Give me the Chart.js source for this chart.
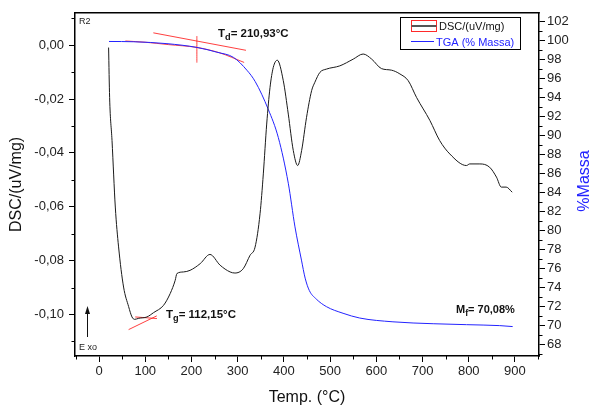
<!DOCTYPE html>
<html>
<head>
<meta charset="utf-8">
<script src="https://cdn.jsdelivr.net/npm/chart.js@4"></script>
<style>
  body { margin: 0; background: #fff; }
  canvas { display: block; }
</style>
</head>
<body>
<canvas id="myChart" width="593" height="408"></canvas>
<script>
// DSC curve (left axis)
var dscTemp = [20.7, 22.9, 28.1, 35.2, 42.3, 53.1, 63.9, 71.3, 77, 86, 103.7, 118, 139.5, 154, 164.8,
    168.5, 182.7, 197, 219, 240, 262, 283.6, 294, 312, 326.8, 337.6, 348.4, 355.5, 362.8, 370, 377, 385.7,
    398.7, 409.5, 420.3, 429.8, 438.4, 449, 460, 467, 478, 492, 521, 550, 571.5, 590, 611, 633,
    651, 669, 687, 716, 737, 759, 795, 802, 824, 845, 860, 870.4, 881, 894];
var dscVal = [-0.0009, -0.0194, -0.0354, -0.0601, -0.0749, -0.0898, -0.097, -0.1009, -0.1018, -0.1014,
    -0.1009, -0.0993, -0.0966, -0.0922, -0.0873,
    -0.0848, -0.0842, -0.0836, -0.0811, -0.0777, -0.0817, -0.0842, -0.0846, -0.083, -0.078, -0.075, -0.0626,
    -0.0478, -0.0293, -0.0157, -0.0083, -0.0056,
    -0.0132, -0.0256, -0.0391, -0.0447, -0.0391, -0.0268, -0.0169, -0.0138, -0.0101, -0.0089, -0.0077,
    -0.0052, -0.0033, -0.0052, -0.0087, -0.0093,
    -0.0107, -0.0132, -0.0194, -0.028, -0.0354, -0.0404, -0.0447, -0.0441, -0.0441, -0.0453, -0.049, -0.0527,
    -0.0527, -0.0546];

// TGA curve (right axis)
var tgaTemp = [21.6, 75, 147, 212, 255, 291, 320, 338, 366, 388, 409.5, 424, 438, 446, 455, 470, 492, 528, 564, 636,
    723, 795, 867, 895];
var tgaVal = [99.93, 99.9, 99.7, 99.3, 98.8, 98.25, 96.9, 95.7, 92.8, 89.8, 85.0, 80.4, 76.9, 75.0, 73.7, 72.8, 72.0,
    71.3, 70.8, 70.4, 70.2, 70.1, 70.0, 69.9];

// tangent constructions
var tdTan1Temp = [117.5, 318];
var tdTan1Val = [100.84, 99.0];
var tdTan2Temp = [57, 100, 150, 212, 260, 314];
var tdTan2Val = [99.98, 99.85, 99.6, 99.3, 98.75, 97.72];
var tdMarkTemp = [211.7, 211.7];
var tdMarkVal = [100.5, 97.7];
var tgTan1Temp = [64, 125];
var tgTan1Val = [-0.1056, -0.1005];
var tgTan2Temp = [78.4, 125.3];
var tgTan2Val = [-0.1009, -0.1015];

function pts(xs, ys) {
    return xs.map(function (x, i) { return { x: x, y: ys[i] }; });
}

var FONT = 'Liberation Sans, Arial, sans-serif';
var BLUE = '#2323ff';
var RED = 'rgba(255,30,30,0.85)';

function tickCol(isMajor) {
    return function (ctx) {
        return (ctx.tick && isMajor(ctx.tick.value)) ? '#000' : 'rgba(0,0,0,0)';
    };
}
var majX = function (v) { return Math.round(v) % 100 === 0; };
var majL = function (v) { return Math.round(v * 100) % 2 === 0; };
var majR = function (v) { return Math.round(v) % 2 === 0; };

function subText(c, x, y, main, sub, rest, size) {
    c.font = 'bold ' + size + 'px ' + FONT;
    c.fillText(main, x, y);
    x += c.measureText(main).width;
    c.font = 'bold ' + (size * 0.8) + 'px ' + FONT;
    c.fillText(sub, x, y + 3);
    x += c.measureText(sub).width;
    c.font = 'bold ' + size + 'px ' + FONT;
    c.fillText(rest, x, y);
}

var decor = {
    id: 'decor',
    afterDraw: function (chart) {
        var c = chart.ctx, a = chart.chartArea;
        c.save();
        // top frame line
        c.strokeStyle = '#000';
        c.lineWidth = 1.5;
        c.beginPath();
        c.moveTo(a.left - 0.75, a.top);
        c.lineTo(a.right + 0.75, a.top);
        c.stroke();

        // minor ticks
        c.lineWidth = 1;
        var sx = chart.scales.x, sl = chart.scales.yL, sr = chart.scales.yR;
        c.beginPath();
        sx.ticks.forEach(function (t) {
            if (majX(t.value)) return;
            var p = Math.round(sx.getPixelForValue(t.value)) + 0.5;
            c.moveTo(p, a.bottom); c.lineTo(p, a.bottom + 3.5);
        });
        sl.ticks.forEach(function (t) {
            if (majL(t.value)) return;
            var p = Math.round(sl.getPixelForValue(t.value)) + 0.5;
            c.moveTo(a.left, p); c.lineTo(a.left - 3.5, p);
        });
        sr.ticks.forEach(function (t) {
            if (majR(t.value)) return;
            var p = Math.round(sr.getPixelForValue(t.value)) + 0.5;
            c.moveTo(a.right, p); c.lineTo(a.right + 3.5, p);
        });
        c.stroke();

        // axis titles
        c.textAlign = 'center';
        c.textBaseline = 'middle';
        c.font = '16px ' + FONT;
        c.fillStyle = '#111';
        c.fillText('Temp. (°C)', (a.left + a.right) / 2, 398);
        c.save();
        c.translate(17, (a.top + a.bottom) / 2);
        c.rotate(-Math.PI / 2);
        c.fillText('DSC/(uV/mg)', 0, 0);
        c.restore();
        c.save();
        c.translate(585, 181);
        c.rotate(-Math.PI / 2);
        c.fillStyle = BLUE;
        c.fillText('%Massa', 0, 0);
        c.restore();

        // annotations
        c.textAlign = 'left';
        c.textBaseline = 'alphabetic';
        c.fillStyle = '#111';
        subText(c, 218, 36.5, 'T', 'd', '= 210,93°C', 11.5);
        subText(c, 166, 318, 'T', 'g', '= 112,15°C', 11.5);
        subText(c, 456, 313, 'M', 'f', '= 70,08%', 11);
        c.font = '9px ' + FONT;
        c.fillStyle = '#222';
        c.fillText('R2', 79, 24);
        c.fillText('E xo', 79, 350);

        // Exo arrow
        c.strokeStyle = '#111';
        c.lineWidth = 1;
        c.beginPath();
        c.moveTo(87.5, 337); c.lineTo(87.5, 312);
        c.stroke();
        c.fillStyle = '#111';
        c.beginPath();
        c.moveTo(87.5, 306); c.lineTo(85, 314); c.lineTo(90, 314); c.closePath();
        c.fill();

        // legend
        c.strokeStyle = '#000';
        c.lineWidth = 1;
        c.strokeRect(400.5, 17.5, 120, 32);
        c.strokeStyle = '#ff2a2a';
        c.strokeRect(411.5, 20.5, 25, 11);
        c.strokeStyle = '#555';
        c.lineWidth = 2;
        c.beginPath(); c.moveTo(411.5, 26); c.lineTo(436.5, 26); c.stroke();
        c.strokeStyle = BLUE;
        c.lineWidth = 1;
        c.beginPath(); c.moveTo(411, 41.5); c.lineTo(434, 41.5); c.stroke();
        c.font = '11px ' + FONT;
        c.textBaseline = 'middle';
        c.fillStyle = '#111';
        c.fillText('DSC/(uV/mg)', 439, 26.5);
        c.fillStyle = BLUE;
        c.fillText('TGA (% Massa)', 436, 42.5);
        c.restore();
    }
};

function lineSet(data, axis, color, width) {
    return {
        data: data,
        yAxisID: axis,
        borderColor: color,
        borderWidth: width,
        pointRadius: 0,
        fill: false,
        cubicInterpolationMode: 'monotone'
    };
}

var ctx = document.getElementById('myChart').getContext('2d');
var myChart = new Chart(ctx, {
    type: 'line',
    data: {
        datasets: [
            lineSet(pts(dscTemp, dscVal), 'yL', '#1a1a1a', 1),
            lineSet(pts(tgaTemp, tgaVal), 'yR', BLUE, 1),
            lineSet(pts(tdTan1Temp, tdTan1Val), 'yR', RED, 1),
            lineSet(pts(tdTan2Temp, tdTan2Val), 'yR', RED, 1),
            lineSet(pts(tdMarkTemp, tdMarkVal), 'yR', RED, 1),
            lineSet(pts(tgTan1Temp, tgTan1Val), 'yL', RED, 1),
            lineSet(pts(tgTan2Temp, tgTan2Val), 'yL', RED, 1)
        ]
    },
    options: {
        responsive: false,
        animation: false,
        devicePixelRatio: 1,
        layout: { padding: { top: 12, left: 0, right: 0, bottom: 0 } },
        plugins: { legend: { display: false }, tooltip: { enabled: false } },
        scales: {
            x: {
                type: 'linear',
                min: -52,
                max: 952,
                afterFit: function (s) { s.height = 52; },
                grid: { drawOnChartArea: false, tickLength: 6, tickColor: tickCol(majX) },
                border: { color: '#000', width: 1.5 },
                ticks: {
                    stepSize: 50,
                    includeBounds: false,
                    autoSkip: false,
                    maxRotation: 0,
                    padding: 2,
                    color: '#222',
                    font: { family: FONT, size: 13 },
                    callback: function (v) { return majX(v) ? String(Math.round(v)) : ''; }
                }
            },
            yL: {
                type: 'linear',
                position: 'left',
                min: -0.1154,
                max: 0.012,
                afterFit: function (s) { s.width = 75; },
                grid: { drawOnChartArea: false, tickLength: 6, tickColor: tickCol(majL) },
                border: { color: '#000', width: 1.5 },
                ticks: {
                    stepSize: 0.01,
                    includeBounds: false,
                    autoSkip: false,
                    padding: 5,
                    color: '#222',
                    font: { family: FONT, size: 13 },
                    callback: function (v) {
                        var r = Math.round(v * 100);
                        if (r % 2 !== 0) return '';
                        return (r / 100).toFixed(2).replace('.', ',');
                    }
                }
            },
            yR: {
                type: 'linear',
                position: 'right',
                min: 66.8,
                max: 102.95,
                afterFit: function (s) { s.width = 54; },
                grid: { drawOnChartArea: false, tickLength: 6, tickColor: tickCol(majR) },
                border: { color: '#000', width: 1.5 },
                ticks: {
                    stepSize: 1,
                    includeBounds: false,
                    autoSkip: false,
                    padding: 2,
                    color: '#222',
                    font: { family: FONT, size: 13 },
                    callback: function (v) { return majR(v) ? String(Math.round(v)) : ''; }
                }
            }
        }
    },
    plugins: [decor]
});
</script>
</body>
</html>
